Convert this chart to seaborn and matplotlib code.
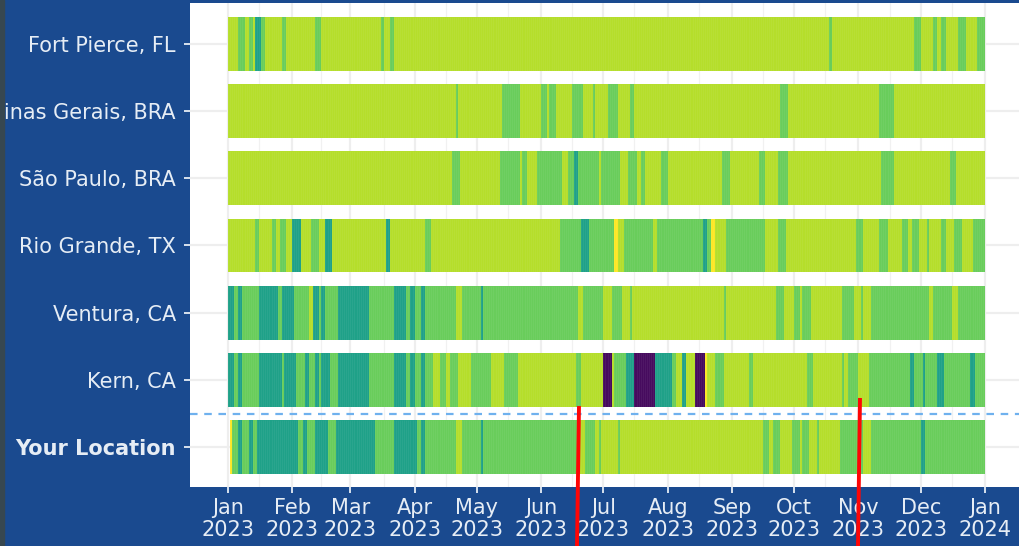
import numpy as np
import pandas as pd
import matplotlib
matplotlib.use('Agg')
import matplotlib.pyplot as plt
import seaborn as sns
from matplotlib.lines import Line2D
from matplotlib.patches import Rectangle

# score read for each colour band
scores = {'P': 0.03, 'T': 0.57, 'G': 0.77, 'L': 0.89, 'Y': 1.0, 'N': np.nan}

locations = ['Fort Pierce, FL', 'Minas Gerais, BRA', 'São Paulo, BRA', 'Rio Grande, TX',
             'Ventura, CA', 'Kern, CA', 'Your Location']
month_days = [0, 15, 31, 45, 59, 75, 90, 105, 120, 135, 151, 166, 181, 196, 212, 227, 243,
              258, 273, 288, 304, 319, 334, 349, 365]
month_labels = ['Jan\n2023', 'Feb\n2023', 'Mar\n2023', 'Apr\n2023', 'May\n2023', 'Jun\n2023',
                'Jul\n2023', 'Aug\n2023', 'Sep\n2023', 'Oct\n2023', 'Nov\n2023', 'Dec\n2023',
                'Jan\n2024']

# runs of (band, last day of the run), day 0 is 1 Jan 2023
fort_pierce = [('L', 4), ('G', 7), ('L', 9), ('G', 11), ('L', 12), ('T', 15), ('G', 17), ('L', 25),
               ('G', 27), ('L', 41), ('G', 44), ('L', 73), ('G', 74), ('L', 77), ('G', 79),
               ('L', 289), ('G', 290), ('L', 330), ('G', 333), ('L', 339), ('G', 341), ('L', 343),
               ('G', 345), ('L', 351), ('G', 355), ('L', 360), ('G', 364)]
minas_gerais = [('L', 109), ('G', 110), ('L', 131), ('G', 140), ('L', 150), ('G', 153), ('L', 154),
                ('G', 157), ('L', 165), ('G', 170), ('L', 175), ('G', 176), ('L', 182), ('G', 187),
                ('L', 193), ('G', 195), ('L', 265), ('G', 269), ('L', 313), ('G', 320), ('L', 364)]
sao_paulo = [('L', 107), ('G', 111), ('L', 130), ('G', 140), ('L', 141), ('G', 143), ('L', 148),
             ('G', 160), ('L', 163), ('G', 166), ('T', 168), ('G', 178), ('L', 179), ('G', 188),
             ('L', 192), ('G', 196), ('L', 198), ('G', 200), ('L', 208), ('G', 211), ('L', 237),
             ('G', 241), ('L', 255), ('G', 258), ('L', 264), ('G', 269), ('L', 314), ('G', 320),
             ('L', 347), ('G', 350), ('L', 364)]
rio_grande = [('L', 12), ('G', 14), ('L', 20), ('G', 22), ('L', 24), ('G', 27), ('L', 30), ('T', 34),
              ('L', 39), ('G', 43), ('L', 46), ('T', 49), ('L', 75), ('T', 77), ('L', 94), ('G', 97),
              ('L', 159), ('G', 169), ('T', 173), ('G', 185), ('Y', 187), ('L', 190), ('G', 204),
              ('L', 206), ('G', 228), ('T', 230), ('G', 232), ('Y', 234), ('L', 239), ('G', 258),
              ('L', 264), ('G', 268), ('L', 302), ('G', 305), ('L', 313), ('G', 317), ('L', 324),
              ('G', 327), ('L', 329), ('G', 332), ('L', 336), ('G', 337), ('L', 343), ('G', 345),
              ('L', 349), ('G', 353), ('L', 358), ('G', 364)]
ventura = [('T', 2), ('G', 4), ('T', 6), ('G', 14), ('T', 23), ('G', 25), ('T', 31), ('G', 38),
           ('L', 40), ('T', 43), ('G', 44), ('T', 46), ('G', 52), ('T', 67), ('G', 79), ('T', 85),
           ('G', 87), ('T', 89), ('G', 92), ('T', 94), ('G', 109), ('L', 112), ('G', 121), ('T', 122),
           ('G', 168), ('L', 170), ('G', 180), ('L', 184), ('G', 189), ('L', 193), ('G', 194),
           ('L', 238), ('G', 239), ('L', 263), ('G', 267), ('L', 272), ('G', 275), ('L', 276),
           ('G', 280), ('L', 295), ('G', 301), ('L', 304), ('G', 305), ('L', 309), ('G', 337),
           ('L', 339), ('G', 348), ('L', 351), ('G', 364)]
kern = [('T', 2), ('G', 4), ('T', 6), ('G', 14), ('T', 25), ('G', 26), ('T', 32), ('G', 36), ('T', 38),
        ('G', 41), ('T', 43), ('G', 44), ('T', 48), ('G', 52), ('T', 67), ('G', 79), ('T', 85), ('G', 87),
        ('T', 89), ('G', 92), ('T', 94), ('G', 98), ('L', 101), ('G', 104), ('L', 106), ('G', 110),
        ('L', 116), ('G', 126), ('L', 132), ('G', 139), ('L', 167), ('G', 169), ('L', 180), ('P', 184),
        ('L', 185), ('G', 191), ('T', 195), ('P', 205), ('T', 213), ('G', 215), ('L', 218), ('T', 220),
        ('L', 224), ('P', 229), ('Y', 230), ('L', 234), ('G', 238), ('L', 250), ('G', 252), ('L', 278),
        ('G', 281), ('L', 295), ('G', 296), ('L', 298), ('G', 303), ('L', 308), ('G', 328), ('T', 330),
        ('G', 334), ('T', 335), ('G', 341), ('T', 344), ('G', 357), ('T', 359), ('G', 364)]
your_location = [('N', 0), ('Y', 1), ('G', 4), ('T', 6), ('G', 9), ('T', 11), ('G', 13), ('T', 33),
                 ('G', 35), ('T', 37), ('G', 41), ('T', 47), ('G', 51), ('T', 70), ('G', 79), ('T', 90),
                 ('G', 92), ('T', 94), ('G', 109), ('L', 112), ('G', 121), ('T', 122), ('G', 168),
                 ('L', 171), ('G', 176), ('L', 178), ('G', 179), ('L', 187), ('G', 188), ('L', 257),
                 ('G', 260), ('L', 262), ('G', 265), ('L', 271), ('G', 275), ('L', 276), ('G', 279),
                 ('L', 283), ('G', 284), ('L', 294), ('G', 305), ('L', 309), ('G', 333), ('T', 335),
                 ('G', 364)]
all_runs = [fort_pierce, minas_gerais, sao_paulo, rio_grande, ventura, kern, your_location]


def expand_runs(runs):
    vals = []
    start = 0
    for band, last in runs:
        vals += [scores[band]] * (last - start + 1)
        start = last + 1
    return vals


# each location takes 4 matrix rows of tile and 1 empty row as the gap
SUB = 5
table = []
for runs in all_runs:
    daily = expand_runs(runs)
    table += [daily] * (SUB - 1)
    table.append([np.nan] * 365)
df = pd.DataFrame(table)

BLUE = '#1a4a8f'
LABEL = '#e6edf5'
sns.set_theme(style='white')
plt.rcParams['font.family'] = ['DejaVu Sans']

fig = plt.figure(figsize=(10.19, 5.46), dpi=100, facecolor=BLUE)
ax = fig.add_axes([190 / 1019, 1 - 487 / 546, 829 / 1019, 484 / 546])
sns.heatmap(df, ax=ax, cmap='viridis', vmin=0, vmax=1, cbar=False, xticklabels=False,
            yticklabels=False, zorder=2)

# faint seams between the daily tiles
for i in range(len(locations)):
    ax.vlines(range(366), i * SUB, i * SUB + SUB - 1, color='white', linewidth=0.5, alpha=0.07, zorder=2.5)

ax.set_xlim(-18.3, 381.4)
ax.set_ylim(34.98, -1.05)
ax.set_facecolor('white')
ax.set_xticks(month_days[::2])
ax.set_xticks(month_days[1::2], minor=True)
ax.set_xticklabels(month_labels, fontsize=15, color=LABEL, linespacing=1.12)
ax.set_yticks([i * SUB + 2 for i in range(len(locations))])
ax.set_yticklabels(locations, fontsize=15, color=LABEL, rotation=0)
ax.get_yticklabels()[-1].set_fontweight('bold')
ax.tick_params(axis='x', which='major', length=4.3, width=1.3, color=LABEL, pad=3.5, bottom=True)
ax.tick_params(axis='y', which='major', length=4.3, width=1.3, color=LABEL, pad=5.8, left=True)
ax.tick_params(axis='x', which='minor', length=0)
ax.set_axisbelow(True)
ax.grid(True, which='major', color='#eeeeee', linewidth=1.6, zorder=0)
ax.grid(True, which='minor', axis='x', color='#f1f1f1', linewidth=0.9, zorder=0)
for s in ax.spines.values():
    s.set_visible(False)

# divider above the user's row
ax.axhline(5 * SUB + SUB - 0.45, color='#6fb1ee', linewidth=1.6, linestyle=(0, (3.4, 3)), zorder=3)

# hand drawn red marks and dark strip on the screenshot
for x0, x1, y0 in [(579, 577, 406), (860, 858, 398)]:
    fig.add_artist(Line2D([x0 / 1019, x1 / 1019], [1 - y0 / 546, 0], color='#ff0505', linewidth=2.8,
                          solid_capstyle='butt', zorder=12))
fig.add_artist(Rectangle((0, 0), 4 / 1019, 1, transform=fig.transFigure, color='#37474f', zorder=11))

fig.savefig('out.png', dpi=100, facecolor=BLUE)
plt.close(fig)
